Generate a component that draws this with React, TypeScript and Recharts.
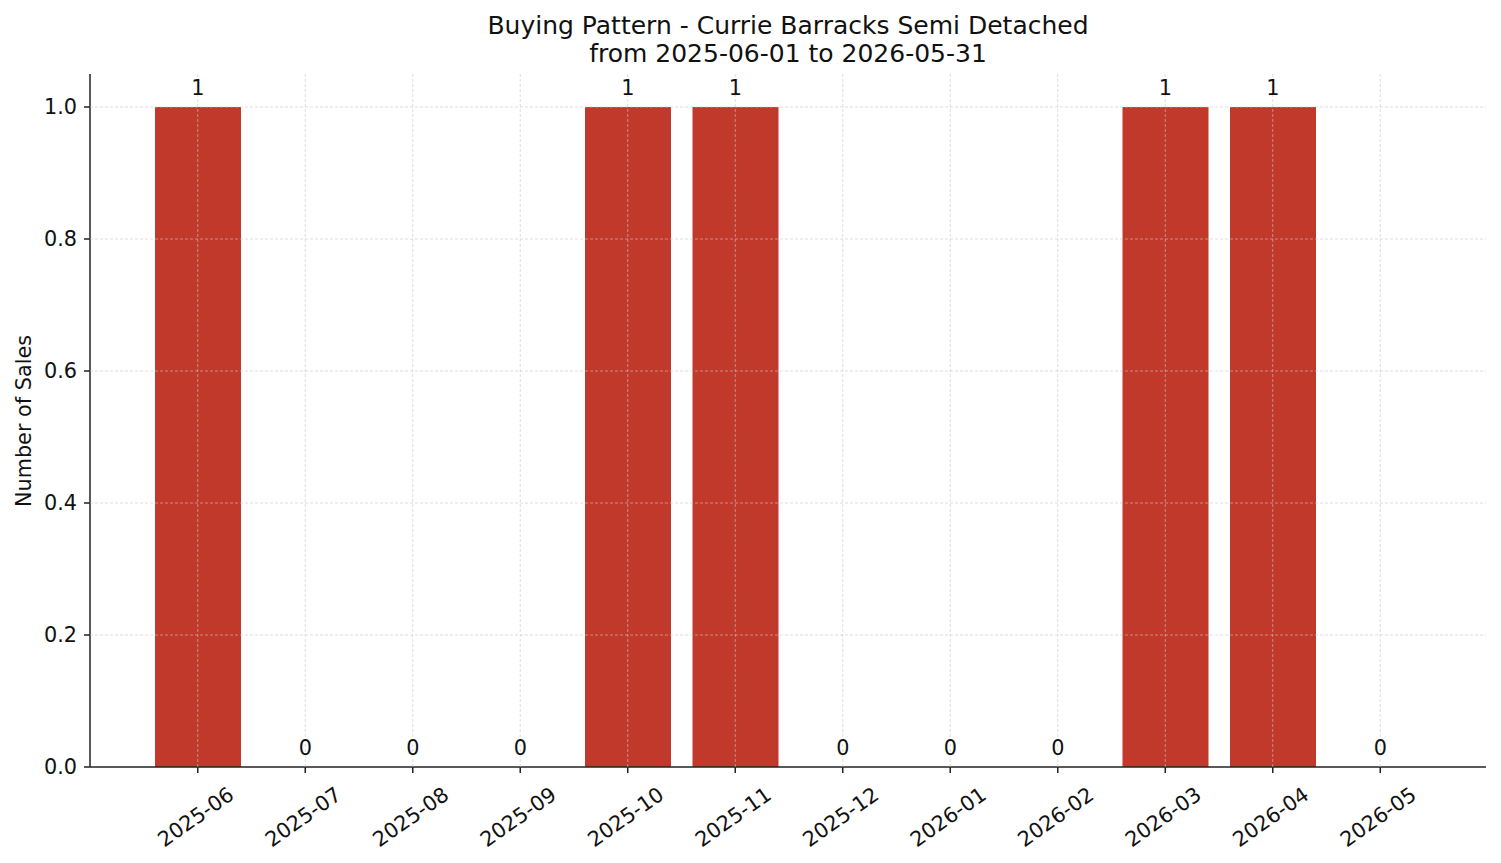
import { Bar, CartesianGrid, ComposedChart, LabelList, Line, XAxis, YAxis } from "recharts";

const months = [
  "2025-06", "2025-07", "2025-08", "2025-09", "2025-10", "2025-11",
  "2025-12", "2026-01", "2026-02", "2026-03", "2026-04", "2026-05",
];
const sales = [1, 0, 0, 0, 1, 1, 0, 0, 0, 1, 1, 0];
const yTicks = [0, 0.2, 0.4, 0.6, 0.8, 1.0];

const data = months.map((m, i) => ({ month: m, sales: sales[i] }));

const FONT = "'DejaVu Sans', sans-serif";
const AXIS = "#222";
const TXT = "#111";

function MonthTick(props: any) {
  const { x, y, payload } = props;
  return (
    <g transform={`translate(${x - 2},${y + 42}) rotate(-35)`}>
      <text textAnchor="middle" dominantBaseline="central" fontSize={20.8} fill={TXT} fontFamily={FONT}>
        {payload.value}
      </text>
    </g>
  );
}

export default function App() {
  return (
    <div style={{ position: "absolute", left: 0, top: 0, width: 1501, height: 863, background: "#fff", fontFamily: FONT }}>
      <div style={{ position: "absolute", left: 90, width: 1396, top: 12, textAlign: "center", fontSize: 25, lineHeight: "28px", color: TXT }}>
        Buying Pattern - Currie Barracks Semi Detached
        <br />
        from 2025-06-01 to 2026-05-31
      </div>
      <div
        style={{
          position: "absolute", left: 24, top: 421, fontSize: 20.8, color: TXT,
          transform: "translate(-50%, -50%) rotate(-90deg)", whiteSpace: "nowrap",
        }}
      >
        Number of Sales
      </div>
      <ComposedChart
        width={1501} height={863} data={data}
        margin={{ top: 74, right: 15, bottom: 36, left: 0 }}
        style={{ position: "absolute", left: 0, top: 0 }}
      >
        <XAxis
          dataKey="month" height={60}
          padding={{ left: 54, right: 52 }}
          tick={<MonthTick />} tickSize={6} tickLine={{ stroke: AXIS, strokeWidth: 1.5 }}
          axisLine={{ stroke: AXIS, strokeWidth: 1.5 }}
          interval={0}
        />
        <YAxis
          width={90} domain={[0, 1.05]} ticks={yTicks} type="number"
          tickFormatter={(v: number) => v.toFixed(1)}
          tickSize={6} tickMargin={7}
          tick={{ fontSize: 20.8, fill: TXT, fontFamily: FONT }}
          tickLine={{ stroke: AXIS, strokeWidth: 1.5 }}
          axisLine={{ stroke: AXIS, strokeWidth: 1.5 }}
        />
        <Bar dataKey="sales" fill="#c0392b" barSize={86} isAnimationActive={false} />
        <CartesianGrid
          strokeDasharray="3 2" stroke="#c8c8c8" strokeOpacity={0.75} strokeWidth={0.8}
          horizontalValues={yTicks.slice(1)} verticalValues={months}
          zIndex={500}
        />
        <Line dataKey="sales" stroke="none" dot={false} activeDot={false} isAnimationActive={false}>
          <LabelList dataKey="sales" position="top" offset={12} fontSize={20.8} fill={TXT} fontFamily={FONT} />
        </Line>
      </ComposedChart>
    </div>
  );
}
